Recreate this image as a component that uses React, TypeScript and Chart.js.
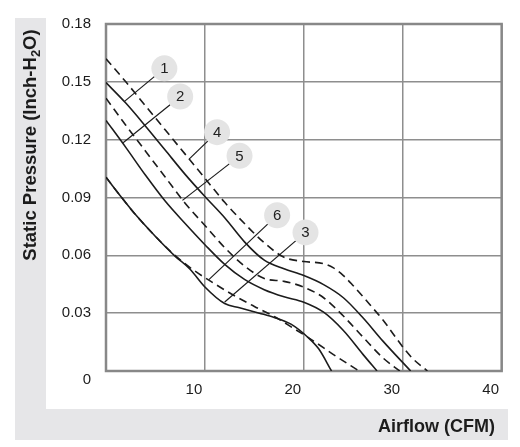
import React, { useEffect, useRef } from 'react';
import { Chart, registerables } from 'chart.js';

Chart.register(...registerables);

// Axes
const X_MIN = 0;
const X_MAX = 40;
const X_STEP = 10;
const Y_MIN = 0;
const Y_MAX = 0.18;
const Y_STEP = 0.03;

const X_TITLE = 'Airflow (CFM)';
const Y_TITLE_MAIN = 'Static Pressure (Inch-H';
const Y_TITLE_SUB = '2';
const Y_TITLE_TAIL = 'O)';

// Curve 1 (solid)
const C1_X = [0, 2, 4, 6, 8, 10, 12, 14, 16, 18, 20, 22, 24, 26, 28, 30.8];
const C1_Y = [0.1496, 0.139, 0.127, 0.1145, 0.102, 0.0905, 0.0795, 0.067, 0.0575, 0.053, 0.0495, 0.0448, 0.038, 0.0275, 0.0155, 0];
// Curve 2 (solid)
const C2_X = [0, 2, 4, 6, 8, 10, 12, 14, 16, 18, 20, 22, 24, 26, 27.4];
const C2_Y = [0.13, 0.116, 0.1015, 0.088, 0.0765, 0.0655, 0.0553, 0.0475, 0.0422, 0.0385, 0.0357, 0.0305, 0.021, 0.0085, 0];
// Curve 3 (solid)
const C3_X = [0, 1.5, 3, 5, 7, 8.5, 10, 12, 13.5, 15.5, 17, 18.7, 20.4, 21.5, 22.8];
const C3_Y = [0.1005, 0.0905, 0.081, 0.0698, 0.0595, 0.0528, 0.0436, 0.035, 0.0328, 0.03, 0.0278, 0.0243, 0.0175, 0.0115, 0];
// Curve 4 (dashed)
const C4_X = [0, 2, 4, 6, 8, 10, 12, 14, 16, 18, 20, 22, 23, 24, 25, 26, 27, 28, 29, 30, 31, 32.5];
const C4_Y = [0.162, 0.15, 0.1375, 0.125, 0.1125, 0.1, 0.0875, 0.0765, 0.0665, 0.059, 0.0568, 0.0557, 0.0535, 0.0495, 0.0442, 0.0385, 0.0325, 0.0265, 0.0195, 0.0125, 0.0065, 0];
// Curve 5 (dashed)
const C5_X = [0, 2, 4, 6, 8, 10, 12, 14, 16, 18, 20, 22, 24, 26, 28, 29.7];
const C5_Y = [0.1415, 0.1275, 0.114, 0.1005, 0.087, 0.0755, 0.064, 0.0545, 0.048, 0.0465, 0.0435, 0.038, 0.0285, 0.0175, 0.0068, 0];
// Curve 6 (dashed)
const C6_X = [0, 1.5, 3, 5, 7, 9, 11, 13, 15, 17, 19, 21, 23, 25.6];
const C6_Y = [0.1005, 0.0905, 0.081, 0.0698, 0.0598, 0.0518, 0.0452, 0.039, 0.0335, 0.0283, 0.022, 0.0155, 0.0085, 0];

const CURVE_XS = [C1_X, C2_X, C3_X, C4_X, C5_X, C6_X];
const CURVE_YS = [C1_Y, C2_Y, C3_Y, C4_Y, C5_Y, C6_Y];
const CURVE_DASHED = [false, false, false, true, true, true];

// Callouts (label, circle centre and leader tip in data units)
const CALLOUT_LABELS = ['1', '2', '3', '4', '5', '6'];
const CALLOUT_CX = [5.9, 7.5, 20.17, 11.23, 13.5, 17.3];
const CALLOUT_CY = [0.157, 0.1424, 0.0719, 0.1239, 0.1116, 0.0808];
const CALLOUT_TX = [1.9, 1.73, 12.0, 8.4, 7.73, 10.4];
const CALLOUT_TY = [0.14, 0.1184, 0.0358, 0.1099, 0.0885, 0.0474];

const FONT = '"Liberation Sans", Arial, Helvetica, sans-serif';
const INK = '#1c1c1c';
const PANEL_GRAY = '#e6e6e8';
const GRID = '#8e8e8e';

const decor = {
  id: 'decor',
  beforeDraw(chart: any) {
    const ctx = chart.ctx;
    ctx.save();
    ctx.fillStyle = '#ffffff';
    ctx.fillRect(0, 0, chart.width, chart.height);
    ctx.fillStyle = PANEL_GRAY;
    ctx.fillRect(15, 18, 493, 422);
    ctx.fillStyle = '#ffffff';
    ctx.fillRect(46, 0, 474, 409);
    ctx.restore();
  },
  beforeDatasetsDraw(chart: any) {
    const { ctx, chartArea } = chart;
    ctx.save();
    ctx.strokeStyle = '#888888';
    ctx.lineWidth = 2.5;
    ctx.strokeRect(chartArea.left, chartArea.top, chartArea.right - chartArea.left, chartArea.bottom - chartArea.top);
    ctx.restore();
  },
  afterDatasetsDraw(chart: any) {
    const { ctx } = chart;
    const xs = chart.scales.x;
    const ys = chart.scales.y;
    const r = 13;
    ctx.save();
    CALLOUT_LABELS.forEach((lab, i) => {
      const cx = xs.getPixelForValue(CALLOUT_CX[i]);
      const cy = ys.getPixelForValue(CALLOUT_CY[i]);
      const tx = xs.getPixelForValue(CALLOUT_TX[i]);
      const ty = ys.getPixelForValue(CALLOUT_TY[i]);
      const dx = tx - cx;
      const dy = ty - cy;
      const d = Math.sqrt(dx * dx + dy * dy);
      ctx.strokeStyle = INK;
      ctx.lineWidth = 1.2;
      ctx.setLineDash([]);
      ctx.beginPath();
      ctx.moveTo(cx + (dx / d) * r, cy + (dy / d) * r);
      ctx.lineTo(tx, ty);
      ctx.stroke();
      ctx.fillStyle = '#e4e4e4';
      ctx.beginPath();
      ctx.arc(cx, cy, r, 0, Math.PI * 2);
      ctx.fill();
      ctx.fillStyle = '#222222';
      ctx.font = `15px ${FONT}`;
      ctx.textAlign = 'center';
      ctx.textBaseline = 'middle';
      ctx.fillText(lab, cx, cy + 0.5);
    });
    ctx.restore();
  },
  afterDraw(chart: any) {
    const { ctx } = chart;
    ctx.save();
    ctx.fillStyle = INK;
    // X title
    ctx.font = `bold 18px ${FONT}`;
    ctx.textAlign = 'right';
    ctx.textBaseline = 'alphabetic';
    ctx.fillText(X_TITLE, 495, 432);
    // Y title with subscript
    ctx.translate(36, 145);
    ctx.rotate(-Math.PI / 2);
    const big = `bold 18.5px ${FONT}`;
    const small = `bold 13px ${FONT}`;
    ctx.font = big;
    const w1 = ctx.measureText(Y_TITLE_MAIN).width;
    const w3 = ctx.measureText(Y_TITLE_TAIL).width;
    ctx.font = small;
    const w2 = ctx.measureText(Y_TITLE_SUB).width;
    let x = -(w1 + w2 + w3) / 2;
    ctx.textAlign = 'left';
    ctx.font = big;
    ctx.fillText(Y_TITLE_MAIN, x, 0);
    x += w1;
    ctx.font = small;
    ctx.fillText(Y_TITLE_SUB, x, 4);
    x += w2;
    ctx.font = big;
    ctx.fillText(Y_TITLE_TAIL, x, 0);
    ctx.restore();
  },
};

export default function App() {
  const ref = useRef<HTMLCanvasElement | null>(null);
  useEffect(() => {
    if (!ref.current) return;
    const datasets = CURVE_XS.map((xsArr, i) => ({
      label: CALLOUT_LABELS[i],
      data: xsArr.map((x, j) => ({ x, y: CURVE_YS[i][j] })),
      borderColor: INK,
      borderWidth: 1.6,
      borderDash: CURVE_DASHED[i] ? [8, 5] : [],
      pointRadius: 0,
      fill: false,
      cubicInterpolationMode: 'monotone' as const,
    }));
    const chart = new Chart(ref.current, {
      type: 'line',
      data: { datasets },
      plugins: [decor],
      options: {
        animation: false,
        responsive: false,
        devicePixelRatio: 1,
        layout: { padding: { left: 0, top: 20, right: 13, bottom: 0 } },
        plugins: { legend: { display: false }, tooltip: { enabled: false } },
        scales: {
          x: {
            type: 'linear',
            min: X_MIN,
            max: X_MAX,
            border: { display: false },
            grid: { color: GRID, lineWidth: 1.5, drawTicks: false },
            ticks: {
              stepSize: X_STEP,
              autoSkip: false,
              maxRotation: 0,
              padding: 10,
              labelOffset: -11,
              color: INK,
              font: { family: FONT, size: 15 },
              callback: (v: any) => (Number(v) === 0 ? '' : String(v)),
            },
            afterFit: (s: any) => {
              s.height = 76;
            },
          },
          y: {
            type: 'linear',
            min: Y_MIN,
            max: Y_MAX,
            border: { display: false },
            grid: { color: GRID, lineWidth: 1.5, drawTicks: false },
            ticks: {
              stepSize: Y_STEP,
              autoSkip: false,
              padding: 15,
              color: INK,
              font: { family: FONT, size: 15 },
              callback: (v: any) => (Math.abs(Number(v)) < 1e-9 ? ['', '0'] : Number(v).toFixed(2)),
            },
            afterFit: (s: any) => {
              s.width = 106;
            },
          },
        },
      },
    });
    return () => chart.destroy();
  }, []);
  return (
    <div style={{ position: 'fixed', left: 0, top: 0, width: 520, height: 447, background: '#fff' }}>
      <canvas ref={ref} width={520} height={447} style={{ display: 'block' }} />
    </div>
  );
}
